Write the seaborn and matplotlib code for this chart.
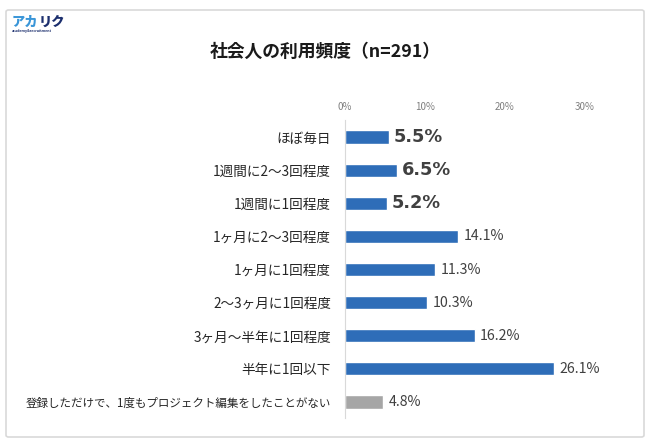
import numpy as np
import pandas as pd
import seaborn as sns
import matplotlib.pyplot as plt
from matplotlib.patches import FancyBboxPatch

# 利用頻度データ
categories = ['ほぼ毎日', '1週間に2～3回程度', '1週間に1回程度', '1ヶ月に2～3回程度',
              '1ヶ月に1回程度', '2～3ヶ月に1回程度', '3ヶ月～半年に1回程度', '半年に1回以下',
              '登録しただけで、1度もプロジェクト編集をしたことがない']
values = [5.5, 6.5, 5.2, 14.1, 11.3, 10.3, 16.2, 26.1, 4.8]
highlight = [True, True, True, False, False, False, False, False, False]
tick_values = [0, 10, 20, 30]
tick_labels = ['0%', '10%', '20%', '30%']

sns.set_theme(style='white')
plt.rcParams['font.family'] = ['Noto Sans CJK JP', 'DejaVu Sans']

df = pd.DataFrame({'category': categories, 'value': values})
colors = ['#2E6DB8'] * 8 + ['#A6A6A6']

fig = plt.figure(figsize=(6.5, 4.41), dpi=100)
ax = fig.add_axes([345 / 650, 1 - 418.5 / 441, 240 / 650, 298 / 441])

sns.barplot(data=df, x='value', y='category', hue='category', palette=colors,
            legend=False, width=0.4, ax=ax, saturation=1)

ax.set_xlim(0, 30)
ax.set_ylim(8.5, -0.5)
ax.set_xticks(tick_values)
ax.set_xticklabels(tick_labels, fontsize=7, color='#7F7F7F')
ax.xaxis.tick_top()
ax.tick_params(axis='x', length=0, pad=6)
ax.tick_params(axis='y', length=0, pad=10)
ax.set_xlabel('')
ax.set_ylabel('')
for s in ['top', 'right', 'bottom']:
    ax.spines[s].set_visible(False)
ax.spines['left'].set_color('#D9D9D9')
ax.spines['left'].set_linewidth(0.8)

for lab in ax.get_yticklabels():
    if lab.get_text().startswith('登録'):
        lab.set_fontsize(8.3)
    else:
        lab.set_fontsize(9.8)
    lab.set_color('#262626')

# 數值標籤
for i, (v, big) in enumerate(zip(values, highlight)):
    if big:
        ax.text(v + 0.6, i, f'{v:.1f}%', va='center', ha='left', fontsize=12.8,
                fontweight='bold', color='#404040', family='DejaVu Sans')
    else:
        ax.text(v + 0.7, i, f'{v:.1f}%', va='center', ha='left', fontsize=10.2,
                color='#404040')

fig.text(0.5, 1 - 52 / 441, '社会人の利用頻度（n=291）', ha='center', va='center',
         fontsize=12.8, fontweight='bold', color='#1A1A1A')

# logo
r = fig.canvas.get_renderer()
t1 = fig.text(12 / 650, 1 - 22 / 441, 'アカ', ha='left', va='center', fontsize=9.5,
              fontweight='heavy', color='#3A96D8')
bb = t1.get_window_extent(renderer=r)
fig.text(bb.x1 / fig.bbox.width, 1 - 22 / 441, 'リク', ha='left', va='center',
         fontsize=9.5, fontweight='heavy', color='#1C2F6E')
fig.text(12 / 650, 1 - 31 / 441, 'academy&recruitment', ha='left', va='center',
         fontsize=2.6, fontweight='bold', color='#1C2F6E')

border = FancyBboxPatch((6 / 650, 1 - 437 / 441), 638 / 650, 427 / 441,
                        boxstyle='round,pad=0,rounding_size=0.004',
                        transform=fig.transFigure, fill=False,
                        edgecolor='#D9D9D9', linewidth=1.2)
fig.patches.append(border)

fig.savefig('out.png', dpi=100)
